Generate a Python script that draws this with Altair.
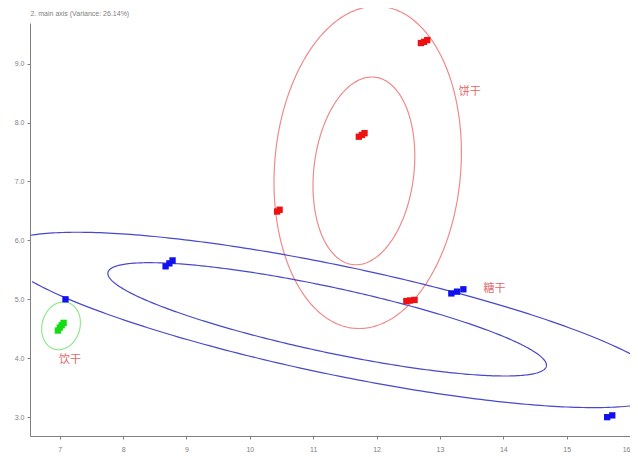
import altair as alt
import numpy as np
import pandas as pd

# ---- data ----
x_ticks = [7, 8, 9, 10, 11, 12, 13, 14, 15, 16]
y_ticks = [3.0, 3.5, 4.0, 4.5, 5.0, 5.5, 6.0, 6.5, 7.0, 7.5, 8.0, 8.5, 9.0, 9.5]
x_domain = [6.53, 16.0]
y_domain = [2.68, 9.69]

red_x = [12.70, 12.75, 12.80, 11.72, 11.77, 11.81, 10.43, 10.47, 12.47, 12.53, 12.60]
red_y = [9.35, 9.37, 9.40, 7.76, 7.79, 7.82, 6.49, 6.52, 4.97, 4.98, 4.99]
blue_x = [7.09, 8.67, 8.73, 8.78, 13.18, 13.27, 13.37, 15.64, 15.72]
blue_y = [5.00, 5.56, 5.61, 5.66, 5.10, 5.13, 5.17, 3.00, 3.03]
green_x = [6.97, 7.00, 7.03, 7.06]
green_y = [4.47, 4.52, 4.56, 4.60]

ell_names = ["red_inner", "red_outer", "blue_inner", "blue_outer", "green"]
ell_cx = [11.80, 11.86, 11.22, 11.35, 7.02]
ell_cy = [7.18, 7.24, 4.66, 4.65, 4.55]
ell_a = [1.60, 2.74, 3.55, 5.40, 0.41]
ell_b = [0.79, 1.47, 0.55, 0.92, 0.30]
ell_angle = [84, 86, -13, -12.7, 78]
ell_color = ["#f08a8a", "#f08a8a", "#4848cc", "#4848cc", "#90e890"]

label_text = ["饼干", "糖干", "饮干"]
label_x = [13.47, 13.86, 7.16]
label_y = [8.52, 5.18, 3.97]

title_y = "2. main axis (Variance: 26.14%)"
title_x = "1. main axis (Variance: 41.38%)"

# ---- build tables ----
pts = pd.DataFrame({
    "x": red_x + blue_x + green_x,
    "y": red_y + blue_y + green_y,
    "c": ["#ee1111"] * len(red_x) + ["#1111ee"] * len(blue_x) + ["#11dd11"] * len(green_x),
})

rows = []
t = np.linspace(0, 2 * np.pi, 361)
for name, cx, cy, a, b, ang, col in zip(ell_names, ell_cx, ell_cy, ell_a, ell_b, ell_angle, ell_color):
    th = np.deg2rad(ang)
    ex = cx + a * np.cos(t) * np.cos(th) - b * np.sin(t) * np.sin(th)
    ey = cy + a * np.cos(t) * np.sin(th) + b * np.sin(t) * np.cos(th)
    valid = ex >= x_domain[0]
    if not valid.all():
        k = int(np.argmin(valid))
        ex, ey, valid = np.roll(ex, -k), np.roll(ey, -k), np.roll(valid, -k)
    seg = 0
    prev = False
    for i, (xx, yy, v) in enumerate(zip(ex, ey, valid)):
        if v and not prev:
            seg += 1
        if v:
            rows.append({"x": xx, "y": yy, "g": f"{name}_{seg}", "o": i, "c": col})
        prev = v
ell = pd.DataFrame(rows)

labels = pd.DataFrame({"x": label_x, "y": label_y, "t": label_text})

xs = alt.Scale(domain=x_domain, nice=False, zero=False)
ys = alt.Scale(domain=y_domain, nice=False, zero=False)

axis_common = dict(
    grid=False, labelFontSize=7, labelColor="#808080", tickColor="#808080",
    domainColor="#808080", tickSize=3, labelFont="Liberation Sans",
    titleFont="Liberation Sans", titleFontSize=7, titleColor="#808080",
    titleFontWeight="normal",
)

xaxis = alt.Axis(values=x_ticks, format="d", title=title_x, labelPadding=6,
                 titlePadding=3, labelFlush=True, **axis_common)
yaxis = alt.Axis(values=y_ticks, format=".1f", title=title_y, titleAngle=0,
                 titleAlign="left", titleX=0, titleY=-10, titleBaseline="middle",
                 labelPadding=3, labelFlush=False, **axis_common)

lines = alt.Chart(ell).mark_line(strokeWidth=1.2, clip=False).encode(
    x=alt.X("x:Q", scale=xs, axis=xaxis),
    y=alt.Y("y:Q", scale=ys, axis=yaxis),
    detail="g:N",
    order="o:Q",
    color=alt.Color("c:N", scale=None),
)

points = alt.Chart(pts).mark_square(size=40, opacity=1).encode(
    x=alt.X("x:Q", scale=xs),
    y=alt.Y("y:Q", scale=ys),
    color=alt.Color("c:N", scale=None),
)

text = alt.Chart(labels).mark_text(font="Noto Sans CJK SC", fontSize=11, color="#e06a6a").encode(
    x=alt.X("x:Q", scale=xs),
    y=alt.Y("y:Q", scale=ys),
    text="t:N",
)

chart = alt.layer(lines, points, text).properties(
    width=600, height=413,
    autosize=alt.AutoSizeParams(type="none"),
    padding={"left": 22, "top": 15, "right": 0, "bottom": 26},
).configure_view(stroke=None)

chart.save("out.html", embed_options={"renderer": "svg", "actions": False})
